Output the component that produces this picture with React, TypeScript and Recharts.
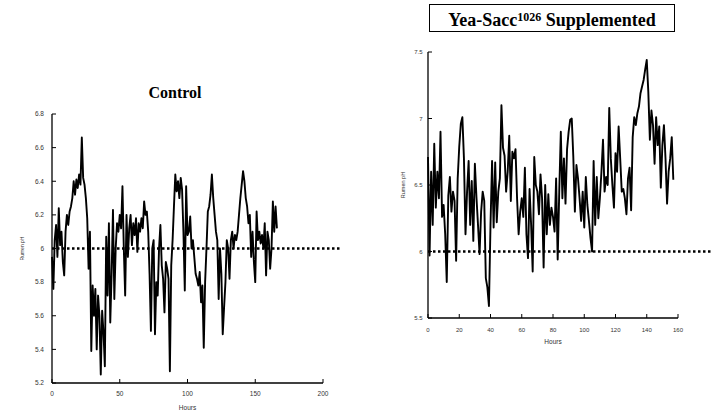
import { LineChart, Line, XAxis, YAxis, ReferenceLine } from 'recharts';

const sampleStepHours = 1;

const controlPH = [
  5.95, 5.76, 6.05, 6.14, 5.95, 6.24, 6.02, 6.1, 5.92, 5.84,
  6.1, 6.2, 6.14, 6.22, 6.25, 6.3, 6.4, 6.32, 6.41, 6.36,
  6.44, 6.38, 6.66, 6.42, 6.38, 6.3, 6.18, 5.88, 6.1, 5.39,
  5.78, 5.6, 5.76, 5.4, 5.72, 5.6, 5.25, 5.63, 5.5, 5.3,
  6.07, 5.72, 6.15, 5.56, 5.85, 6.23, 5.7, 6.0, 6.15, 6.1,
  6.2, 6.12, 6.37, 6.0, 5.72, 6.2, 5.95, 6.12, 6.2, 6.02,
  6.15, 6.08, 6.18, 5.98, 6.15, 6.1, 6.18, 6.12, 6.28, 6.2,
  6.22, 6.1, 5.85, 5.51, 6.0, 6.05, 5.49, 5.8, 5.72, 6.0,
  6.14, 5.9, 5.82, 5.62, 5.92, 5.88, 5.82, 5.27, 5.9, 6.05,
  6.25, 6.44, 6.34, 6.4, 6.3, 6.42, 6.35, 6.1, 5.75, 6.37,
  6.08, 6.1, 6.19, 6.0, 6.05, 5.95, 5.85, 5.82, 5.78, 5.86,
  5.68, 5.78, 5.41, 5.8, 6.0, 6.22, 6.25, 6.32, 6.44, 6.3,
  6.2, 6.1, 6.05, 5.7, 6.0, 5.85, 5.49, 5.65, 5.8, 6.05,
  6.0, 5.82, 6.05, 6.1, 6.0, 6.08, 6.05, 6.1, 6.2, 6.3,
  6.38, 6.46, 6.4, 6.3, 6.25, 6.15, 6.2, 5.95, 6.1, 5.92,
  5.8, 6.22, 6.05, 6.1, 6.03, 6.08, 6.0, 6.15, 5.84, 6.1,
  6.05, 5.88, 6.0, 6.28, 6.1, 6.25, 6.12,
];

const supplementedPH = [
  6.71, 5.97, 6.6, 6.2, 6.81, 6.33, 6.6, 6.4, 6.9, 6.26,
  6.35, 6.13, 5.77, 6.42, 6.56, 6.3, 6.45, 6.38, 5.93, 6.55,
  6.79, 6.96, 7.01, 6.7, 6.13, 6.45, 6.68, 6.2, 6.53, 6.08,
  6.66, 6.41, 6.2, 5.98, 6.3, 6.45, 6.38, 5.8, 5.73, 5.59,
  6.2, 6.68, 6.18, 6.67, 6.22, 6.45, 6.55, 7.1, 6.78, 6.72,
  6.45, 6.6, 6.87, 6.38, 6.75, 6.7, 6.77, 6.4, 6.13, 6.3,
  6.4, 6.26, 6.63, 6.13, 5.95, 6.47, 6.2, 5.85, 6.71, 6.5,
  6.45, 6.28, 6.58, 6.4, 5.88, 6.5, 6.13, 6.43, 6.2, 6.33,
  6.26, 6.15, 6.55, 5.94, 6.45, 6.9, 6.4, 6.7, 6.36, 6.77,
  6.9, 6.99, 7.0, 6.71, 6.3, 6.65, 6.55, 6.4, 6.23, 6.45,
  6.18, 6.56, 6.35, 6.23, 6.1, 6.0, 6.68, 6.2, 6.56, 6.25,
  6.4, 6.6, 6.84, 6.45, 6.56, 6.5, 7.08, 6.7, 6.5, 6.33,
  6.74, 6.6, 6.94, 6.7, 6.45, 6.47, 6.4, 6.28, 6.55, 6.63,
  6.31, 6.86, 7.01, 6.95, 7.04, 7.09, 7.19, 7.24, 7.29, 7.37,
  7.44, 7.2, 6.84, 7.06, 6.95, 6.66, 7.01, 6.8, 6.94, 6.48,
  6.8, 6.95, 6.7, 6.36, 6.6, 6.7, 6.86, 6.54,
];

const thresholdPH = 6;

const controlXTicks = [0, 50, 100, 150, 200];
const controlYTicks = [5.2, 5.4, 5.6, 5.8, 6, 6.2, 6.4, 6.6, 6.8];
const supplementedXTicks = [0, 20, 40, 60, 80, 100, 120, 140, 160];
const supplementedYTicks = [5.5, 6, 6.5, 7, 7.5];

const sans = '"Liberation Sans", Arial, sans-serif';
const serif = '"Liberation Serif", "Times New Roman", serif';
const TICK_LEN = 4;

const toRows = (values: number[]) =>
  values.map((ph, i) => ({ hour: i * sampleStepHours, ph }));

const fmt = (v: number) => String(Number(v.toFixed(1)));

// ticks point into the plot, so draw the tick mark and its label together
function BottomTick(props: any) {
  const { x, y, payload, gap, fontSize } = props;
  const axisY = y - gap;
  return (
    <g>
      <line x1={x} x2={x} y1={axisY} y2={axisY - TICK_LEN} stroke="#000" strokeWidth={1} />
      <text x={x} y={y} dy="0.71em" textAnchor="middle" fontSize={fontSize} fill="#333" fontFamily={sans}>
        {fmt(payload.value)}
      </text>
    </g>
  );
}

function LeftTick(props: any) {
  const { x, y, payload, gap, fontSize } = props;
  const axisX = x + gap;
  return (
    <g>
      <line x1={axisX} x2={axisX + TICK_LEN} y1={y} y2={y} stroke="#000" strokeWidth={1} />
      <text x={x} y={y} dy="0.35em" textAnchor="end" fontSize={fontSize} fill="#333" fontFamily={sans}>
        {fmt(payload.value)}
      </text>
    </g>
  );
}

interface PanelProps {
  rows: { hour: number; ph: number }[];
  width: number;
  height: number;
  margin: { top: number; right: number; bottom: number; left: number };
  xDomain: [number, number];
  yDomain: [number, number];
  xTicks: number[];
  yTicks: number[];
  guideEnd: number;
  tickFont: number;
  yTickGap: number;
  xTickGap: number;
  yLabelOffset: number;
  yLabelFont: number;
  xLabelOffset: number;
}

function PhPanel(p: PanelProps) {
  return (
    <LineChart width={p.width} height={p.height} data={p.rows} margin={p.margin}>
      <XAxis
        type="number"
        dataKey="hour"
        domain={p.xDomain}
        ticks={p.xTicks}
        interval={0}
        height={28}
        tickSize={0}
        tickMargin={p.xTickGap}
        tickLine={false}
        axisLine={{ stroke: '#000', strokeWidth: 1.3 }}
        tick={(t: any) => <BottomTick {...t} gap={p.xTickGap} fontSize={p.tickFont} />}
        label={{
          value: 'Hours',
          position: 'insideBottom',
          offset: p.xLabelOffset,
          style: { fontSize: 6.5, fill: '#333', fontFamily: sans },
        }}
      />
      <YAxis
        type="number"
        domain={p.yDomain}
        ticks={p.yTicks}
        interval={0}
        width={52}
        tickSize={0}
        tickMargin={p.yTickGap}
        tickLine={false}
        axisLine={{ stroke: '#000', strokeWidth: 1.3 }}
        tick={(t: any) => <LeftTick {...t} gap={p.yTickGap} fontSize={p.tickFont} />}
        label={{
          value: 'Rumen pH',
          angle: -90,
          position: 'insideLeft',
          offset: p.yLabelOffset,
          style: { textAnchor: 'middle', fontSize: p.yLabelFont, fill: '#333', fontFamily: sans },
        }}
      />
      <Line
        type="linear"
        dataKey="ph"
        stroke="#000"
        strokeWidth={1.9}
        strokeLinejoin="round"
        dot={false}
        isAnimationActive={false}
      />
      <ReferenceLine
        segment={[
          { x: 0, y: thresholdPH },
          { x: p.guideEnd, y: thresholdPH },
        ]}
        ifOverflow="visible"
        stroke="#000"
        strokeWidth={2.5}
        strokeDasharray="2.5 2.5"
      />
    </LineChart>
  );
}

export default function App() {
  return (
    <div
      style={{
        position: 'absolute',
        left: 0,
        top: 0,
        width: 716,
        height: 411,
        background: '#fff',
        overflow: 'hidden',
      }}
    >
      <div style={{ position: 'absolute', left: 0, top: 0 }}>
        <PhPanel
          rows={toRows(controlPH)}
          width={360}
          height={411}
          margin={{ top: 114, right: 37, bottom: 0, left: 0 }}
          xDomain={[0, 200]}
          yDomain={[5.2, 6.8]}
          xTicks={controlXTicks}
          yTicks={controlYTicks}
          guideEnd={213}
          tickFont={6.5}
          yTickGap={8}
          xTickGap={8.5}
          yLabelOffset={22}
          yLabelFont={5}
          xLabelOffset={1}
        />
      </div>
      <div
        style={{
          position: 'absolute',
          left: 100,
          top: 85,
          width: 150,
          textAlign: 'center',
          fontFamily: serif,
          fontWeight: 'bold',
          fontSize: 16,
          lineHeight: '16px',
        }}
      >
        Control
      </div>

      <div style={{ position: 'absolute', left: 360, top: 0 }}>
        <PhPanel
          rows={toRows(supplementedPH)}
          width={356}
          height={411}
          margin={{ top: 52, right: 38, bottom: 65, left: 16 }}
          xDomain={[0, 160]}
          yDomain={[5.5, 7.5]}
          xTicks={supplementedXTicks}
          yTicks={supplementedYTicks}
          guideEnd={182}
          tickFont={6}
          yTickGap={5.5}
          xTickGap={9.5}
          yLabelOffset={27}
          yLabelFont={5.5}
          xLabelOffset={2.5}
        />
      </div>
      <div
        style={{
          position: 'absolute',
          left: 429,
          top: 4,
          width: 246,
          height: 28,
          boxSizing: 'border-box',
          border: '1px solid #000',
          fontFamily: serif,
          fontWeight: 'bold',
          fontSize: 18,
          lineHeight: '18px',
        }}
      >
        <div style={{ position: 'absolute', left: 0, right: 0, top: 6, textAlign: 'center' }}>
          Yea-Sacc
          <span style={{ fontSize: 12, position: 'relative', top: -5.5 }}>1026</span> Supplemented
        </div>
      </div>
    </div>
  );
}
